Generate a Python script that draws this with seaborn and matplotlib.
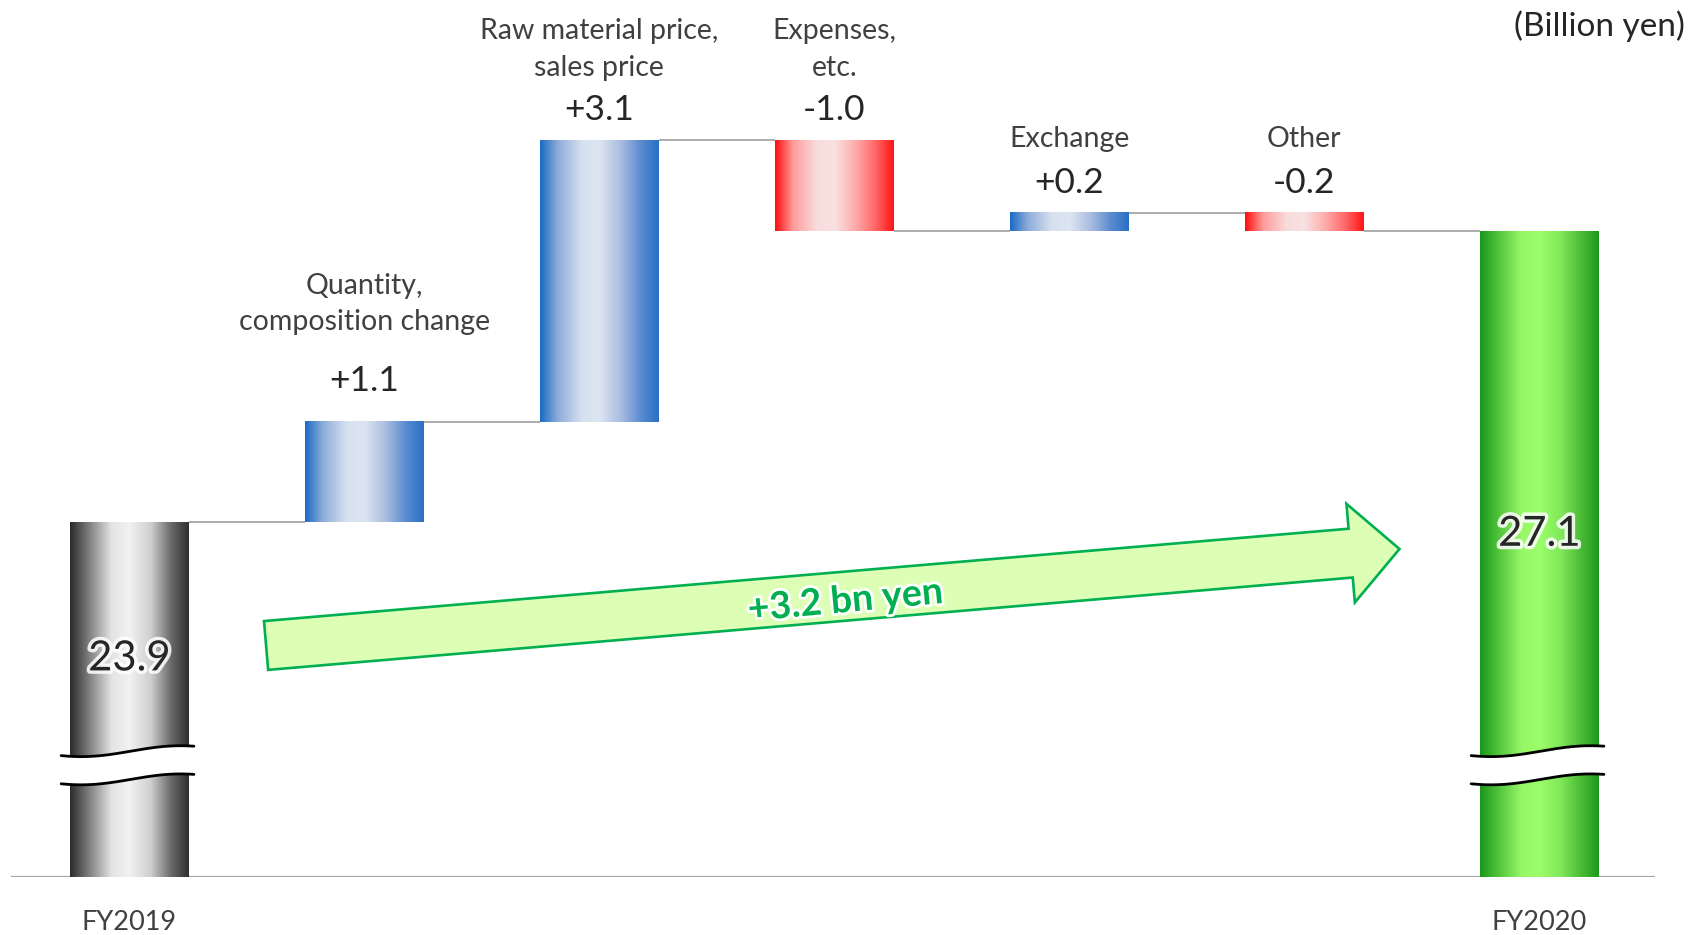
import numpy as np
import pandas as pd
import matplotlib
matplotlib.use("Agg")
import matplotlib.pyplot as plt
import matplotlib.patheffects as pe
from matplotlib.colors import LinearSegmentedColormap
from matplotlib.patches import Polygon
import seaborn as sns

# ---- data (billion yen) ----
categories = ["FY2019", "Quantity,\ncomposition change", "Raw material price,\nsales price",
              "Expenses,\netc.", "Exchange", "Other", "FY2020"]
start_total = 23.9
changes = [1.1, 3.1, -1.0, 0.2, -0.2]
end_total = 27.1
change_labels = ["+1.1", "+3.1", "-1.0", "+0.2", "-0.2"]
total_labels = ["23.9", "27.1"]
axis_floor = 20.0
unit_label = "(Billion yen)"
growth_label = "+3.2 bn yen"

# ---- waterfall geometry derived from the data ----
levels = start_total + np.cumsum(changes)
prev_levels = np.concatenate([[start_total], levels[:-1]])
bottoms = [axis_floor] + list(np.minimum(prev_levels, levels)) + [axis_floor]
tops = [start_total] + list(np.maximum(prev_levels, levels)) + [end_total]
running = [start_total] + list(levels)          # connector heights
kinds = ["total"] + ["up" if c > 0 else "down" for c in changes] + ["final"]

df = pd.DataFrame({"category": categories, "top": tops})

# ---- style ----
sns.set_style("white")
plt.rcParams["font.family"] = ["Lato", "DejaVu Sans"]

W, H, DPI = 1688, 935, 100
fig = plt.figure(figsize=(W / DPI, H / DPI), dpi=DPI)
ax = fig.add_axes([11 / W, 58.3 / H, (1655 - 11) / W, 1 - 58.3 / H])

bar_w = 0.505
sns.barplot(data=df, x="category", y="top", ax=ax, width=bar_w,
            color="white", linewidth=0, saturation=1, zorder=1)

gradients = {
    "total": ["#2b2b2b", "#7a7a7a", "#e4e4e4", "#f2f2f2", "#cfcfcf", "#6a6a6a", "#2f2f2f"],
    "up":    ["#1a6bc4", "#8eacd9", "#d6e0ef", "#dde5f1", "#a9bde0", "#5b8bd0", "#2870c4"],
    "down":  ["#ff0d0d", "#ff9a9a", "#f9dcdc", "#f8e2e2", "#ffaaaa", "#ff6565", "#ff1414"],
    "final": ["#1a981a", "#50c23a", "#96f866", "#9cfd6a", "#80e85a", "#4bbb36", "#1e9a1e"],
}
stops = [0.0, 0.15, 0.35, 0.5, 0.68, 0.85, 1.0]
ramp = np.linspace(0, 1, 256)[None, :]

for patch, b, t, kind in zip(ax.patches, bottoms, tops, kinds):
    patch.set_y(b)
    patch.set_height(t - b)
    x0 = patch.get_x()
    w = patch.get_width()
    cmap = LinearSegmentedColormap.from_list(kind, list(zip(stops, gradients[kind])))
    ax.imshow(ramp, cmap=cmap, extent=[x0, x0 + w, b, t], aspect="auto",
              interpolation="bicubic", zorder=2)

# connectors between consecutive bars
for i, lvl in enumerate(running):
    ax.plot([i + bar_w / 2, i + 1 - bar_w / 2], [lvl, lvl],
            color="#a6a6a6", lw=1.3, zorder=1.5, solid_capstyle="butt")

# baseline
ax.axhline(axis_floor, color="#a6a6a6", lw=1.6, zorder=1.5)

xlim = (-0.5034, 6.4923)
ylim = (axis_floor, axis_floor + 876.7 / 90.96)
ax.set_xlim(*xlim)
ax.set_ylim(*ylim)
ax.set_xticks([])
ax.set_yticks([])
ax.set_xlabel("")
ax.set_ylabel("")
for s in ax.spines.values():
    s.set_visible(False)

# axis-break marks on the two total bars
t = np.linspace(0, 1, 200)
wave = 0.06 * np.sin(-np.pi / 2 + (t - 0.15) * np.pi / 0.75)
for i in (0, len(categories) - 1):
    xs = i - 0.29 + t * 0.565
    upper = 21.38 + wave
    lower = 21.07 + wave
    ax.fill_between(xs, lower, upper, color="white", lw=0, zorder=3)
    ax.plot(xs, upper, color="black", lw=2, zorder=3.5)
    ax.plot(xs, lower, color="black", lw=2, zorder=3.5)

# change values and category names
value_off = [0.45, 0.33, 0.33, 0.33, 0.33]
name_off = [0.5, 0.32, 0.32, 0.34, 0.34]
for j, (lab, dv) in enumerate(zip(change_labels, changes)):
    i = j + 1
    vy = tops[i] + value_off[j]
    ax.text(i, vy, lab, ha="center", va="center", fontsize=25.5, color="#262626", zorder=5)
    ax.text(i, vy + name_off[j], categories[i], ha="center", va="bottom",
            fontsize=20.5, color="#404040", linespacing=1.5, zorder=5)

# totals inside the end bars
glow = [pe.withStroke(linewidth=5, foreground="white", alpha=0.85)]
for i, lab, y in ((0, total_labels[0], 22.40), (len(categories) - 1, total_labels[1], 23.77)):
    ax.text(i, y, lab, ha="center", va="center", fontsize=30, color="#262626",
            path_effects=glow, zorder=6)
    ax.text(i, axis_floor - 0.5, categories[i], ha="center", va="center",
            fontsize=19.5, color="#404040", clip_on=False)

# growth arrow from FY2019 towards FY2020
def arrow_polygon(tail, tip, shaft_w, head_w, head_len):
    p0 = ax.transData.transform(tail)
    p1 = ax.transData.transform(tip)
    d = p1 - p0
    u = d / np.hypot(*d)
    n = np.array([-u[1], u[0]])
    base = p1 - u * head_len
    pts = [p0 + n * shaft_w / 2, base + n * shaft_w / 2, base + n * head_w / 2, p1,
           base - n * head_w / 2, base - n * shaft_w / 2, p0 - n * shaft_w / 2]
    return ax.transData.inverted().transform(pts), np.degrees(np.arctan2(d[1], d[0]))

verts, angle = arrow_polygon((0.582, 22.542), (5.405, 23.603), 49, 99, 49)
ax.add_patch(Polygon(verts, closed=True, facecolor="#ddffb5", edgecolor="#00b050",
                     lw=1.9, zorder=4, joinstyle="miter"))
ax.text(3.046, 23.03, growth_label, ha="center", va="center", rotation=angle + 0.5,
        rotation_mode="anchor", fontsize=27, fontweight="bold", color="#00b050",
        path_effects=[pe.withStroke(linewidth=4, foreground="white")], zorder=5)

fig.text(1685 / W, 1 - 26 / H, unit_label, ha="right", va="center",
         fontsize=24, color="#262626")

fig.savefig("out.png", dpi=DPI)
